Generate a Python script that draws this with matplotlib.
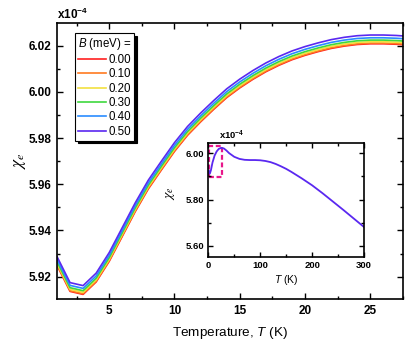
import matplotlib
matplotlib.use("Agg")
import matplotlib.pyplot as plt
from matplotlib.patches import Rectangle
from matplotlib.ticker import MultipleLocator, FormatStrFormatter

plt.rcParams['font.family'] = ['Liberation Sans', 'DejaVu Sans']
plt.rcParams['mathtext.fontset'] = 'custom'
plt.rcParams['mathtext.rm'] = 'Liberation Sans'
plt.rcParams['mathtext.it'] = 'Liberation Sans:italic'
plt.rcParams['mathtext.bf'] = 'Liberation Sans:bold'

# temperature grid of the main panel (K)
T_main = [1, 2, 3, 4, 5, 6, 7, 8, 9, 10, 11, 12, 13, 14, 15, 16, 17, 18, 19, 20,
          21, 22, 23, 24, 25, 26, 27, 27.5]

# chi_e (x1e-4) for each B (meV)
chi_b000 = [5.9249, 5.9136, 5.9123, 5.9177, 5.9266, 5.9374, 5.9482, 5.9580, 5.9662, 5.9742,
            5.9812, 5.9870, 5.9924, 5.9975, 6.0017, 6.0054, 6.0087, 6.0115, 6.0139, 6.0158,
            6.0174, 6.0188, 6.0198, 6.0205, 6.0208, 6.0208, 6.0206, 6.0204]
chi_b010 = [5.9252, 5.9139, 5.9126, 5.9180, 5.9269, 5.9377, 5.9485, 5.9583, 5.9665, 5.9745,
            5.9815, 5.9873, 5.9927, 5.9978, 6.0020, 6.0057, 6.0090, 6.0118, 6.0142, 6.0161,
            6.0177, 6.0191, 6.0201, 6.0208, 6.0211, 6.0211, 6.0209, 6.0207]
chi_b020 = [5.9258, 5.9145, 5.9132, 5.9186, 5.9275, 5.9383, 5.9491, 5.9589, 5.9671, 5.9751,
            5.9821, 5.9879, 5.9933, 5.9984, 6.0026, 6.0063, 6.0096, 6.0124, 6.0148, 6.0167,
            6.0183, 6.0197, 6.0207, 6.0214, 6.0217, 6.0217, 6.0215, 6.0213]
chi_b030 = [5.9265, 5.9152, 5.9139, 5.9193, 5.9282, 5.9390, 5.9498, 5.9596, 5.9678, 5.9758,
            5.9828, 5.9886, 5.9940, 5.9991, 6.0033, 6.0070, 6.0103, 6.0131, 6.0155, 6.0174,
            6.0190, 6.0204, 6.0214, 6.0221, 6.0224, 6.0224, 6.0222, 6.0220]
chi_b040 = [5.9275, 5.9162, 5.9149, 5.9203, 5.9292, 5.9400, 5.9508, 5.9606, 5.9688, 5.9768,
            5.9838, 5.9896, 5.9950, 6.0001, 6.0043, 6.0080, 6.0113, 6.0141, 6.0165, 6.0184,
            6.0200, 6.0214, 6.0224, 6.0231, 6.0234, 6.0234, 6.0232, 6.0230]
chi_b050 = [5.9287, 5.9174, 5.9161, 5.9215, 5.9304, 5.9412, 5.9520, 5.9618, 5.9700, 5.9780,
            5.9850, 5.9908, 5.9962, 6.0013, 6.0055, 6.0092, 6.0125, 6.0153, 6.0177, 6.0196,
            6.0212, 6.0226, 6.0236, 6.0243, 6.0246, 6.0246, 6.0244, 6.0242]

B_labels = ["0.00", "0.10", "0.20", "0.30", "0.40", "0.50"]
colors = ["#ff2020", "#ff7a20", "#f2e040", "#3ed83e", "#2a8cff", "#5a28f0"]

# inset: wide temperature range
T_inset = [1, 2, 3, 5, 8, 12, 16, 20, 25, 30, 35, 40, 50, 60, 70, 80, 90, 100, 110,
           120, 130, 140, 150, 160, 170, 180, 190, 200, 220, 240, 260, 280, 300]
chi_inset = [5.925, 5.914, 5.913, 5.927, 5.960, 5.990, 6.008, 6.019, 6.024, 6.021,
             6.012, 6.001, 5.985, 5.976, 5.972, 5.971, 5.971, 5.970, 5.967,
             5.962, 5.954, 5.944, 5.933, 5.920, 5.906, 5.892, 5.877, 5.862,
             5.828, 5.792, 5.756, 5.719, 5.682]

fig = plt.figure(figsize=(4.15, 3.46), dpi=100)
ax = fig.add_axes([0.1373, 0.1358, 0.8337, 0.7977])

series = [chi_b000, chi_b010, chi_b020, chi_b030, chi_b040, chi_b050]
for vals, lab, c in zip(series, B_labels, colors):
    ax.plot(T_main, vals, color=c, lw=1.2, label=lab)

ax.set_xlim(1, 27.5)
ax.set_ylim(5.9103, 6.0298)
ax.xaxis.set_major_locator(MultipleLocator(5))
ax.xaxis.set_minor_locator(MultipleLocator(2.5))
ax.yaxis.set_major_locator(MultipleLocator(0.02))
ax.yaxis.set_minor_locator(MultipleLocator(0.01))
ax.yaxis.set_major_formatter(FormatStrFormatter('%.2f'))
ax.tick_params(which='both', direction='in', top=True, right=True, width=1.0)
ax.tick_params(which='major', length=4, labelsize=8.5, pad=4)
ax.tick_params(which='minor', length=2)
for lbl in ax.get_xticklabels() + ax.get_yticklabels():
    lbl.set_fontweight('bold')
for sp in ax.spines.values():
    sp.set_linewidth(1.2)

ax.set_xlabel(r'Temperature, $T$ (K)', fontsize=9.7, labelpad=6)
ax.set_ylabel(r'$\chi_e$', fontsize=12.5, math_fontfamily='stix')
ax.yaxis.set_label_coords(-0.085, 0.5)
ax.text(0, 1.005, r'$\mathbf{x10^{-4}}$', transform=ax.transAxes,
        ha='left', va='bottom', fontsize=8.5)

leg = ax.legend(loc='upper left', bbox_to_anchor=(0.052, 0.964), borderaxespad=0,
                title=r'$B$ (meV) =', fontsize=8.3, title_fontsize=8.3,
                frameon=True, fancybox=False, edgecolor='black',
                shadow={'color': 'black', 'alpha': 1},
                handlelength=2.4, handletextpad=0.3, labelspacing=0.2,
                borderpad=0.25)
leg.get_frame().set_linewidth(0.8)

# inset
axi = fig.add_axes([0.502, 0.2564, 0.375, 0.3312])
axi.plot(T_inset, chi_inset, color=colors[-1], lw=1.3)
axi.add_patch(Rectangle((1, 5.897), 26, 0.136, fill=False, edgecolor='#e8168a',
                        lw=1.6, ls=(0, (2.2, 1.2))))
axi.set_xlim(0, 300)
axi.set_ylim(5.551, 6.046)
axi.xaxis.set_major_locator(MultipleLocator(100))
axi.xaxis.set_minor_locator(MultipleLocator(50))
axi.yaxis.set_major_locator(MultipleLocator(0.2))
axi.yaxis.set_minor_locator(MultipleLocator(0.1))
axi.yaxis.set_major_formatter(FormatStrFormatter('%.2f'))
axi.tick_params(which='both', direction='in', top=True, right=True, width=1.0)
axi.tick_params(which='major', length=3.5, labelsize=6.8, pad=3)
axi.tick_params(which='minor', length=2)
for lbl in axi.get_xticklabels() + axi.get_yticklabels():
    lbl.set_fontweight('bold')
for sp in axi.spines.values():
    sp.set_linewidth(1.2)
axi.set_xlabel(r'$T$ (K)', fontsize=7.5, labelpad=2)
axi.set_ylabel(r'$\chi_e$', fontsize=10, math_fontfamily='stix')
axi.yaxis.set_label_coords(-0.2, 0.56)
axi.text(0.07, 1.01, r'$\mathbf{x10^{-4}}$', transform=axi.transAxes,
         ha='left', va='bottom', fontsize=6.8)

fig.savefig('out.png', dpi=100)
